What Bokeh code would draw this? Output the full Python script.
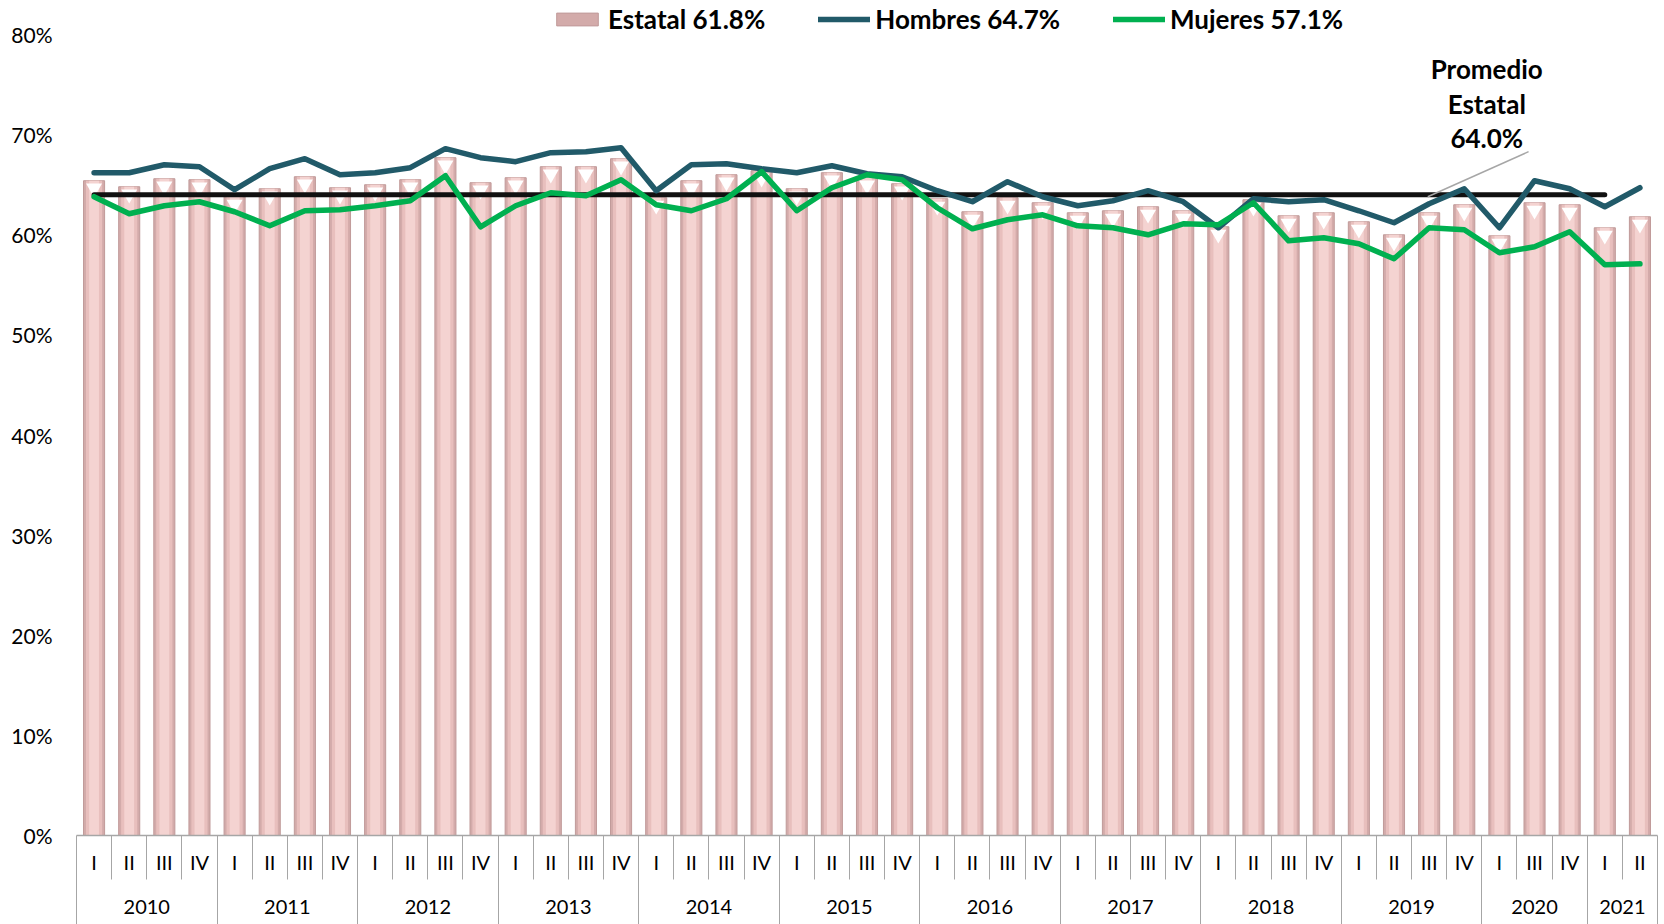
import numpy as np
from bokeh.plotting import figure
from bokeh.models import (Range1d, LinearAxis, FixedTicker, PrintfTickFormatter,
                          Legend, LegendItem, ColumnDataSource, Grid)
from bokeh.core.properties import value
from bokeh.embed import file_html
from bokeh.resources import INLINE

# ---------------- data ----------------
quarters = ["I", "II", "III", "IV"] * 10 + ["I", "III", "IV"] + ["I", "II"]
years = ["2010", "2011", "2012", "2013", "2014", "2015", "2016", "2017",
         "2018", "2019", "2020", "2021"]
year_counts = [4, 4, 4, 4, 4, 4, 4, 4, 4, 4, 3, 2]

estatal = [65.4, 64.8, 65.6, 65.5,
           63.8, 64.6, 65.8, 64.7,
           65.0, 65.5, 67.7, 65.2,
           65.7, 66.8, 66.8, 67.6,
           63.7, 65.4, 66.0, 66.4,
           64.6, 66.2, 65.7, 65.1,
           63.6, 62.3, 63.7, 63.2,
           62.2, 62.4, 62.8, 62.4,
           60.8, 63.5, 61.9, 62.2,
           61.3, 60.0, 62.2, 63.0,
           59.9, 63.2, 63.0,
           60.7, 61.8]
hombres = [66.2, 66.2, 67.0, 66.8,
           64.5, 66.6, 67.6, 66.0,
           66.2, 66.7, 68.6, 67.7,
           67.3, 68.2, 68.3, 68.7,
           64.4, 67.0, 67.1, 66.6,
           66.2, 66.9, 66.1, 65.8,
           64.4, 63.3, 65.3, 63.8,
           62.9, 63.4, 64.4, 63.3,
           60.7, 63.6, 63.3, 63.5,
           62.4, 61.2, 63.1, 64.6,
           60.7, 65.4, 64.6,
           62.8, 64.7]
mujeres = [63.8, 62.1, 62.9, 63.3,
           62.3, 60.9, 62.4, 62.5,
           62.9, 63.4, 65.9, 60.8,
           62.9, 64.2, 63.9, 65.5,
           63.0, 62.4, 63.6, 66.3,
           62.4, 64.7, 66.0, 65.5,
           62.7, 60.6, 61.5, 62.0,
           60.9, 60.7, 60.0, 61.1,
           61.0, 63.2, 59.4, 59.7,
           59.1, 57.6, 60.7, 60.5,
           58.2, 58.8, 60.3,
           57.0, 57.1]
promedio_estatal = 64.0
y_ticks = [0, 10, 20, 30, 40, 50, 60, 70, 80]
legend_labels = ["Estatal 61.8%", "Hombres 64.7%", "Mujeres 57.1%"]
note_text = "Promedio\nEstatal\n64.0%"

# ---------------- styling ----------------
FONT = "Lato"
TEAL = "#215A69"
GREEN = "#00B050"
GRAY = "#A6A6A6"

n = len(quarters)
xc = np.arange(n) + 0.5
bounds = list(range(n + 1))
ystarts = np.concatenate([[0], np.cumsum(year_counts)[:-1]])
ycenters = [float(s + c / 2) for s, c in zip(ystarts, year_counts)]
ybounds = [0] + [int(v) for v in np.cumsum(year_counts)]

W, H = 1662, 924
p = figure(width=W, height=H, x_range=Range1d(0, n), y_range=Range1d(0, 83.4),
           output_backend="svg", toolbar_location=None,
           x_axis_location=None, y_axis_location=None,
           min_border_left=76, min_border_right=5, min_border_top=0,
           min_border_bottom=89)
p.outline_line_color = None
p.background_fill_color = "white"
p.border_fill_color = "white"

# y axis
yax = LinearAxis(ticker=FixedTicker(ticks=y_ticks),
                 formatter=PrintfTickFormatter(format="%d%%"),
                 axis_line_color=None, major_tick_line_color=None,
                 minor_tick_line_color=None, major_label_standoff=18,
                 major_label_text_font=FONT, major_label_text_font_size="21px",
                 major_label_text_color="#000000")
p.add_layout(yax, "left")

# x axis: quarters (quarter separators drawn as outward minor ticks)
axA = LinearAxis(ticker=FixedTicker(ticks=[float(v) for v in xc], minor_ticks=bounds),
                 major_label_overrides={float(x): q for x, q in zip(xc, quarters)},
                 axis_line_color=GRAY, axis_line_width=1.5,
                 major_tick_line_color=None, major_tick_in=0, major_tick_out=0,
                 minor_tick_in=-44, minor_tick_out=0,
                 minor_tick_line_color=GRAY, minor_tick_line_width=1,
                 major_label_standoff=14, major_label_text_font=FONT,
                 major_label_text_font_size="20px", major_label_text_color="#000000")
p.add_layout(axA, "below")

# x axis: years (year separators)
axB = LinearAxis(ticker=FixedTicker(ticks=ycenters, minor_ticks=ybounds),
                 major_label_overrides={c: y for c, y in zip(ycenters, years)},
                 axis_line_color=None,
                 major_tick_line_color=None, major_tick_in=0, major_tick_out=0,
                 minor_tick_in=-56, minor_tick_out=0,
                 minor_tick_line_color=GRAY, minor_tick_line_width=1,
                 major_label_standoff=23, major_label_text_font=FONT,
                 major_label_text_font_size="20px", major_label_text_color="#000000")
p.add_layout(axB, "below")

for g in p.select(type=Grid):
    g.visible = False

src = ColumnDataSource(dict(x=xc, estatal=estatal, hombres=hombres, mujeres=mujeres,
                            cap=np.array(estatal) - 0.75))

bar_outer = p.vbar(x="x", top="estatal", bottom=0, width=0.6, source=src,
                   fill_color="#D3ABAA", line_color="#C09A99", line_width=1)
p.vbar(x="x", top="estatal", bottom=0, width=0.46, source=src,
       fill_color="#E8BFBD", line_color=None)
p.vbar(x="x", top="estatal", bottom=0, width=0.28, source=src,
       fill_color="#F4D3D1", line_color=None)
p.scatter(x="x", y="cap", marker="inverted_triangle", size=16, source=src,
          fill_color="white", line_color=None)

p.line(x=xc[:n - 1], y=[promedio_estatal] * (n - 1), line_color="#111111",
       line_width=5, line_cap="round")
r_h = p.line(x="x", y="hombres", source=src, line_color=TEAL, line_width=5.5,
             line_join="round", line_cap="round")
r_m = p.line(x="x", y="mujeres", source=src, line_color=GREEN, line_width=5.5,
             line_join="round", line_cap="round")

# annotation
p.segment(x0=[38.46], y0=[63.8], x1=[41.33], y1=[68.3], line_color=GRAY, line_width=1.5)
p.text(x=[40.14], y=[73.1], text=[note_text], text_font=value(FONT),
       text_font_size="26px", text_font_style="bold", text_align="center",
       text_baseline="middle", text_line_height=1.09, text_color="#000000")

legend = Legend(items=[LegendItem(label=legend_labels[0], renderers=[bar_outer]),
                       LegendItem(label=legend_labels[1], renderers=[r_h]),
                       LegendItem(label=legend_labels[2], renderers=[r_m])],
                orientation="horizontal", location=(475, 800),
                label_text_font=FONT, label_text_font_size="26px",
                label_text_font_style="bold", label_text_color="#000000",
                glyph_width=52, glyph_height=16, label_standoff=5, spacing=53,
                padding=0, margin=0, border_line_color=None,
                background_fill_alpha=0, label_height=30)
p.add_layout(legend)

open("out.html", "w").write(file_html(p, INLINE))
